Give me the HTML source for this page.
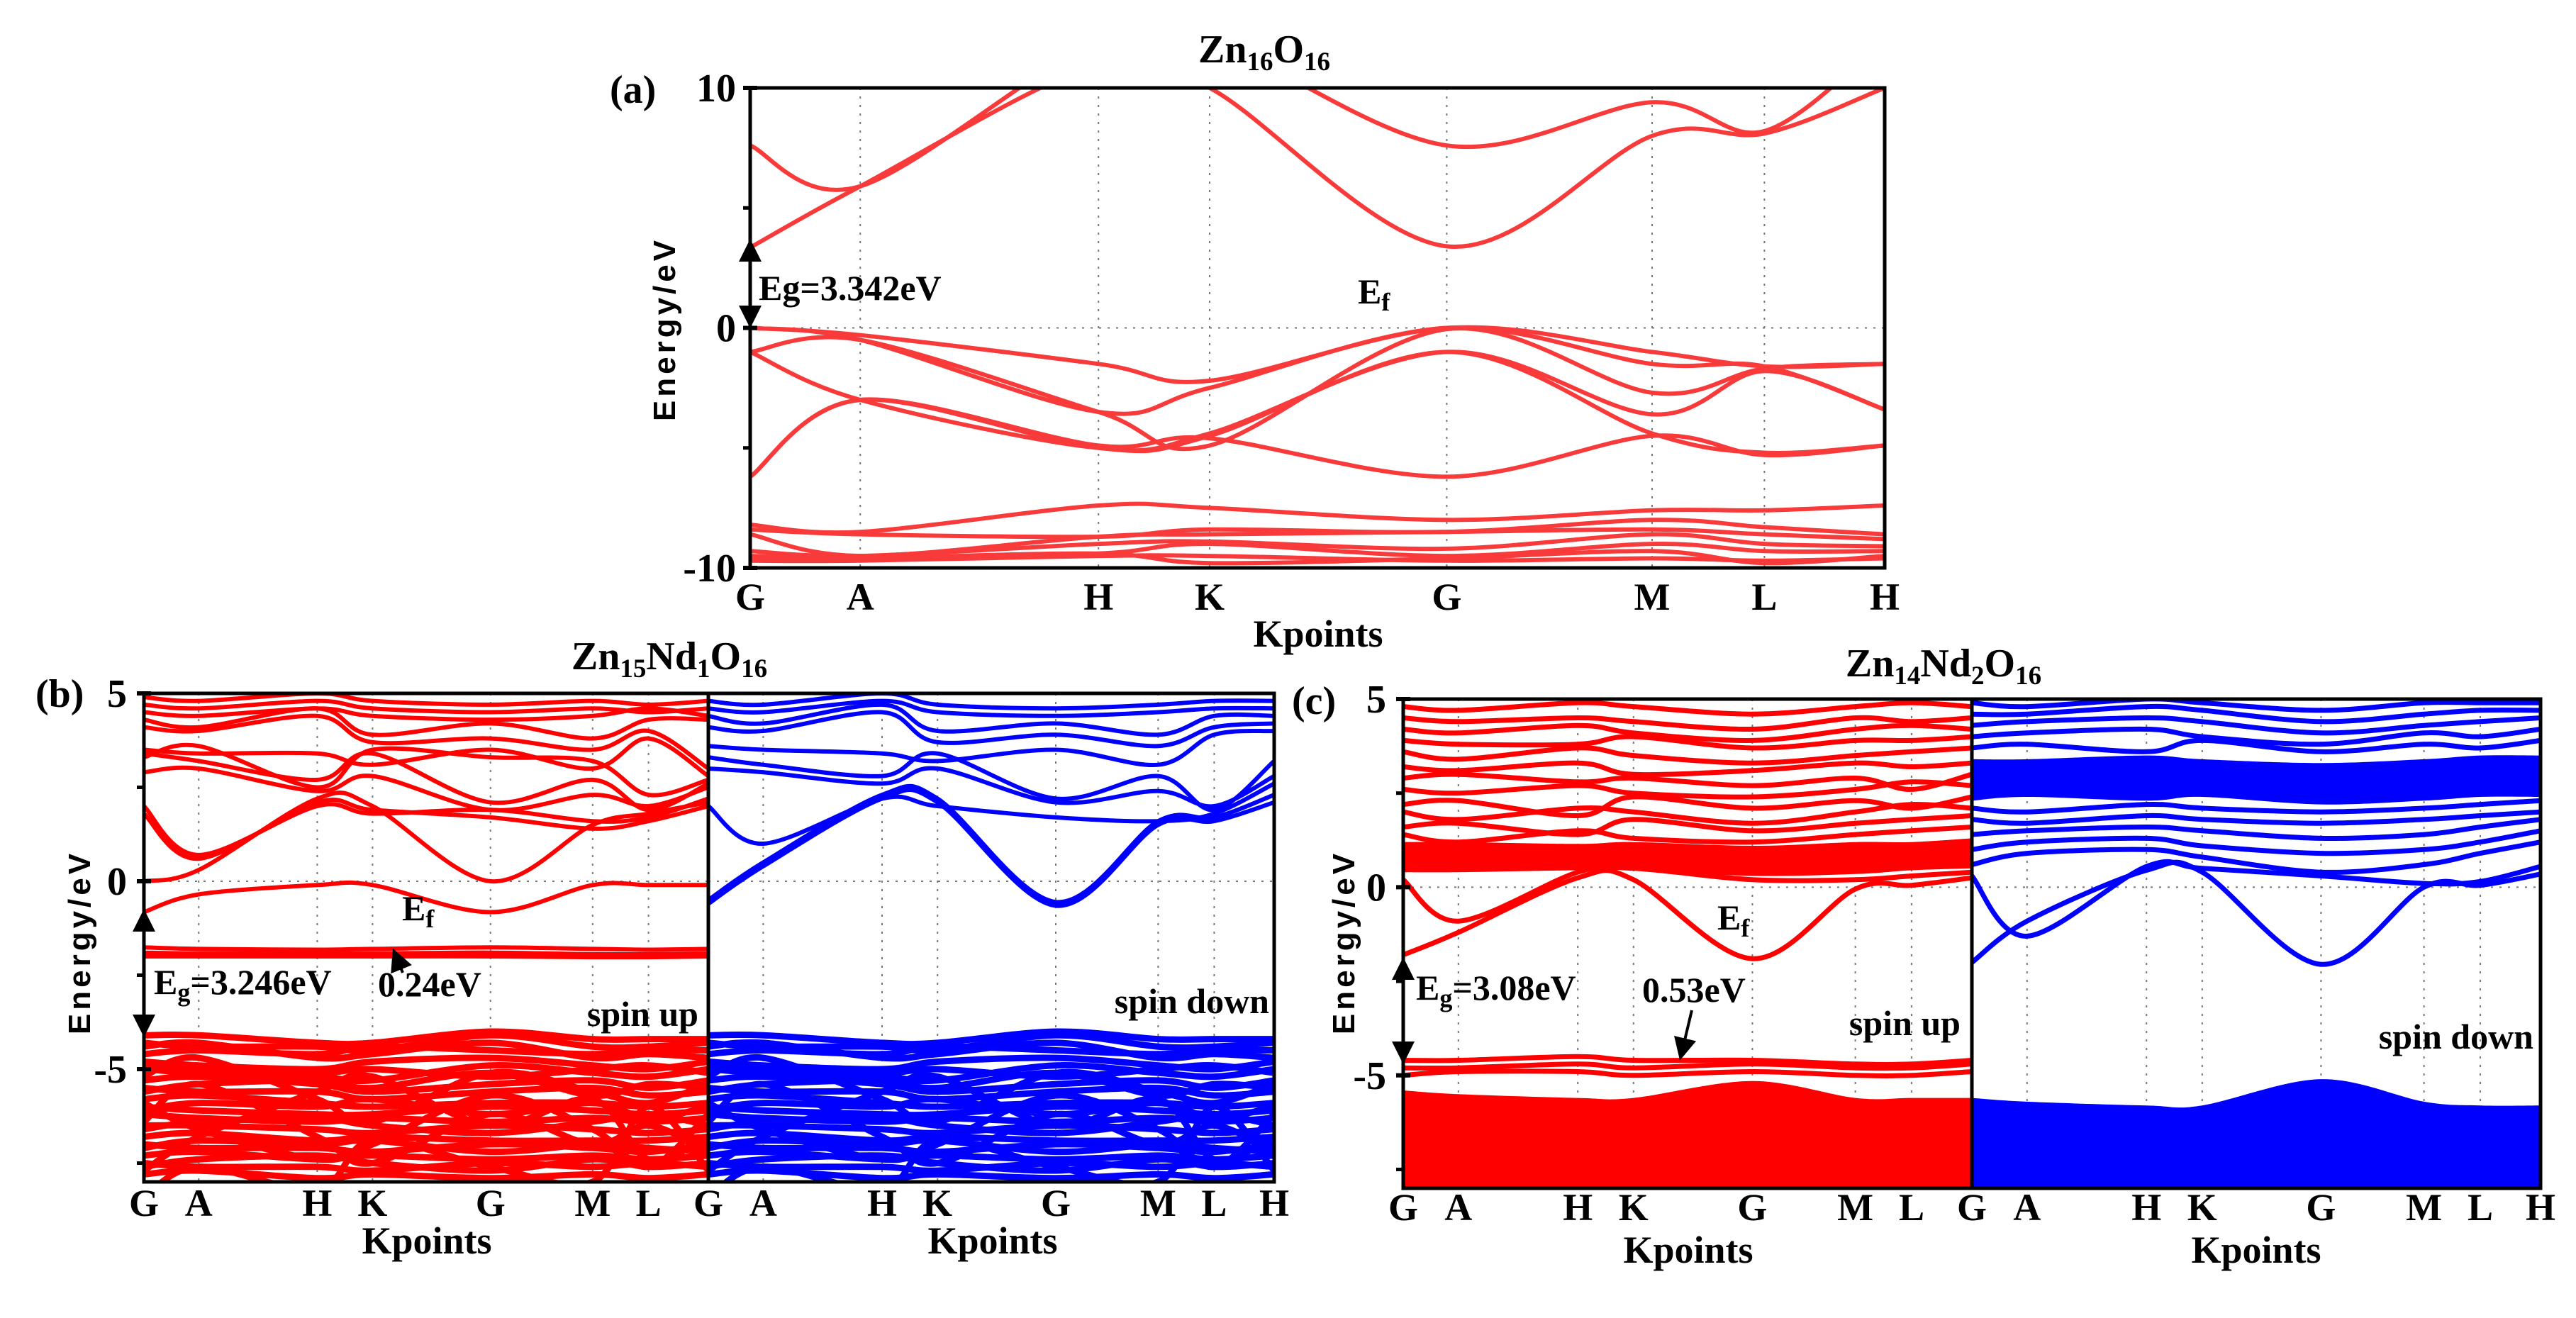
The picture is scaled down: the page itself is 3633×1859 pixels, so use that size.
<!DOCTYPE html>
<html><head><meta charset="utf-8">
<style>
html,body{margin:0;padding:0;background:#fff;}
svg{display:block;font-family:"Liberation Serif",serif;font-weight:bold;}
</style></head>
<body>
<svg id="fig" width="3633" height="1859" viewBox="0 0 3633 1859" xmlns="http://www.w3.org/2000/svg">
<rect width="3633" height="1859" fill="#fff"/>
<defs>
<marker id="ah" markerWidth="8" markerHeight="8" refX="6" refY="4" orient="auto" markerUnits="strokeWidth"><path d="M0,0 L8,4 L0,8 z" fill="#000"/></marker>
</defs>
<g id="layer"></g>
<text x="1783" y="88" font-size="56" text-anchor="middle">Zn<tspan font-size="37" dy="11">16</tspan><tspan dy="-11">O</tspan><tspan font-size="37" dy="11">16</tspan></text>
<text x="860" y="145" font-size="56">(a)</text>
<text transform="translate(952,464) rotate(-90)" font-family="Liberation Sans,sans-serif" font-size="44" letter-spacing="5" text-anchor="middle">Energy/eV</text>
<text x="1859" y="912" font-size="54" text-anchor="middle">Kpoints</text>
<text x="1070" y="423" font-size="50">Eg=3.342eV</text>
<text x="1915" y="428" font-size="50">E<tspan font-size="36" dy="10">f</tspan></text>
<line x1="1058" y1="400" x2="1058" y2="345" stroke="#000" stroke-width="4" marker-end="url(#ah)"/>
<line x1="1058" y1="400" x2="1058" y2="455" stroke="#000" stroke-width="4" marker-end="url(#ah)"/>
<text x="944" y="944" font-size="56" text-anchor="middle">Zn<tspan font-size="37" dy="11">15</tspan><tspan dy="-11">Nd</tspan><tspan font-size="37" dy="11">1</tspan><tspan dy="-11">O</tspan><tspan font-size="37" dy="11">16</tspan></text>
<text x="50" y="997" font-size="56">(b)</text>
<text transform="translate(127,1329) rotate(-90)" font-family="Liberation Sans,sans-serif" font-size="44" letter-spacing="5" text-anchor="middle">Energy/eV</text>
<text x="602" y="1768" font-size="54" text-anchor="middle">Kpoints</text>
<text x="1400" y="1768" font-size="54" text-anchor="middle">Kpoints</text>
<text x="217" y="1402" font-size="50">E<tspan font-size="36" dy="10">g</tspan><tspan dy="-10">=3.246eV</tspan></text>
<text x="533" y="1405" font-size="50">0.24eV</text>
<line x1="568" y1="1372" x2="557" y2="1345" stroke="#000" stroke-width="4" marker-end="url(#ah)"/>
<text x="567" y="1298" font-size="50">E<tspan font-size="36" dy="10">f</tspan></text>
<text x="985" y="1447" font-size="50" text-anchor="end">spin up</text>
<text x="1790" y="1429" font-size="50" text-anchor="end">spin down</text>
<line x1="203" y1="1370" x2="203" y2="1290" stroke="#000" stroke-width="4" marker-end="url(#ah)"/>
<line x1="203" y1="1370" x2="203" y2="1455" stroke="#000" stroke-width="4" marker-end="url(#ah)"/>
<text x="2741" y="954" font-size="56" text-anchor="middle">Zn<tspan font-size="37" dy="11">14</tspan><tspan dy="-11">Nd</tspan><tspan font-size="37" dy="11">2</tspan><tspan dy="-11">O</tspan><tspan font-size="37" dy="11">16</tspan></text>
<text x="1822" y="1007" font-size="56">(c)</text>
<text transform="translate(1910,1329) rotate(-90)" font-family="Liberation Sans,sans-serif" font-size="44" letter-spacing="5" text-anchor="middle">Energy/eV</text>
<text x="2381" y="1781" font-size="54" text-anchor="middle">Kpoints</text>
<text x="3182" y="1781" font-size="54" text-anchor="middle">Kpoints</text>
<text x="1997" y="1410" font-size="50">E<tspan font-size="36" dy="10">g</tspan><tspan dy="-10">=3.08eV</tspan></text>
<text x="2316" y="1413" font-size="50">0.53eV</text>
<line x1="2386" y1="1425" x2="2371" y2="1488" stroke="#000" stroke-width="4" marker-end="url(#ah)"/>
<text x="2422" y="1311" font-size="50">E<tspan font-size="36" dy="10">f</tspan></text>
<text x="2765" y="1460" font-size="50" text-anchor="end">spin up</text>
<text x="3573" y="1479" font-size="50" text-anchor="end">spin down</text>
<line x1="1979" y1="1420" x2="1979" y2="1358" stroke="#000" stroke-width="4" marker-end="url(#ah)"/>
<line x1="1979" y1="1420" x2="1979" y2="1493" stroke="#000" stroke-width="4" marker-end="url(#ah)"/>
</svg>
<script>
const kLabels = ["G","A","H","K","G","M","L","H"];
const kLabelsUp = ["G","A","H","K","G","M","L"];
const kFrac = [0, 0.097, 0.307, 0.405, 0.614, 0.795, 0.894, 1];
const aTicks = [10, 0, -10];
const bcTicks = [5, 0, -5];

const aBands = [
 [3.35,5.9,11,10.0,3.4,8.0,8.1,10],
 [7.6,5.9,12,12,7.6,9.4,8.2,12],
 [0,-0.3,-1.5,-2.2,0,-1.0,-1.6,-1.5],
 [0,-0.5,-3.5,-2.5,0,-1.5,-1.6,-3.4],
 [-1.0,-0.5,-3.5,-4.9,-0.05,-2.7,-1.7,-1.5],
 [-1.0,-3.0,-5.0,-4.4,-1.0,-3.6,-1.8,-3.4],
 [-6.2,-3.0,-5.0,-4.5,-1.0,-4.4,-5.2,-4.9],
 [-6.2,-3.0,-4.9,-4.6,-6.2,-4.5,-5.3,-4.9],
 [-8.2,-8.5,-7.4,-7.5,-8.0,-7.6,-7.6,-7.4],
 [-8.4,-8.6,-8.7,-8.4,-8.5,-8.0,-8.3,-8.6],
 [-8.6,-9.5,-8.7,-8.6,-8.5,-8.4,-8.6,-8.8],
 [-9.3,-9.5,-9.0,-8.9,-9.2,-8.6,-9.0,-9.1],
 [-9.5,-9.6,-9.4,-9.0,-9.5,-9.0,-9.3,-9.3],
 [-9.6,-9.6,-9.4,-9.8,-9.6,-9.3,-9.8,-9.5],
 [-9.7,-9.7,-9.5,-9.5,-9.7,-9.6,-9.7,-9.6]
];
const bUpCond = [
 [0.0,0.3,2.2,2.0,0.0,1.5,1.8,2.1],
 [1.8,0.6,2.1,1.9,1.7,1.4,1.6,2.0],
 [2.0,0.7,2.0,1.8,1.9,1.6,1.7,2.2],
 [2.9,3.0,2.4,2.8,1.9,2.3,2.0,2.5],
 [3.4,3.2,2.7,3.4,2.1,2.7,1.9,2.6],
 [3.5,3.4,3.4,3.1,3.5,3.0,3.8,2.8],
 [4.1,4.0,4.4,3.7,3.8,3.5,4.0,3.0],
 [4.3,4.1,4.6,3.9,4.2,3.8,4.3,4.3],
 [4.5,4.4,4.6,4.4,4.3,4.4,4.6,4.4],
 [4.7,4.6,4.8,4.6,4.5,4.6,4.5,4.6],
 [4.9,4.8,5.0,4.8,4.7,4.8,4.7,4.8],
 [3.3,3.6,2.5,3.5,3.3,3.2,2.3,2.7]
];
const bUpImpurity = [
 [-0.82,-0.35,-0.1,-0.1,-0.82,-0.1,-0.1,-0.1],
 [-1.76,-1.8,-1.82,-1.8,-1.76,-1.8,-1.82,-1.8],
 [-1.9,-1.92,-1.92,-1.92,-1.9,-1.94,-1.94,-1.92],
 [-2.0,-2.0,-2.0,-2.0,-2.0,-2.02,-2.02,-2.0]
];
const bValence = [
 [-4.1,-4.1,-4.3,-4.3,-4.0,-4.2,-4.2,-4.2],
 [-4.3,-4.4,-4.4,-4.5,-4.1,-4.4,-4.4,-4.3],
 [-4.6,-4.5,-4.6,-4.4,-4.5,-4.6,-4.5,-4.5],
 [-4.8,-4.9,-5.0,-4.8,-4.7,-4.9,-5.0,-4.8],
 [-5.0,-5.1,-5.2,-5.3,-4.9,-5.1,-5.2,-5.0],
 [-5.3,-5.2,-5.4,-5.6,-5.4,-5.3,-5.5,-5.3],
 [-5.5,-5.6,-5.6,-5.8,-5.6,-5.5,-5.7,-5.6],
 [-5.8,-5.7,-5.9,-6.0,-5.9,-5.9,-6.0,-5.9],
 [-6.0,-6.1,-6.2,-6.2,-6.0,-6.1,-6.2,-6.1],
 [-6.2,-6.3,-6.4,-6.3,-6.4,-6.3,-6.4,-6.3],
 [-6.5,-6.5,-6.6,-6.7,-6.5,-6.6,-6.7,-6.6],
 [-6.8,-6.7,-6.9,-6.8,-6.9,-6.9,-6.9,-6.8],
 [-7.0,-7.1,-7.1,-7.2,-7.0,-7.1,-7.2,-7.0],
 [-7.3,-7.2,-7.4,-7.3,-7.4,-7.3,-7.4,-7.3],
 [-7.5,-7.6,-7.6,-7.7,-7.5,-7.6,-7.5,-7.6],
 [-7.8,-7.7,-7.9,-7.8,-7.9,-7.8,-7.9,-7.8],
 [-6.4,-5.4,-6.8,-7.5,-6.2,-7.0,-6.5,-7.2],
 [-7.7,-6.8,-5.6,-5.2,-6.5,-5.8,-7.4,-6.8],
 [-8.4,-7.6,-8.2,-6.9,-7.6,-8.0,-6.0,-7.7],
 [-5.2,-4.7,-5.8,-6.4,-5.1,-5.6,-5.9,-5.4],
 [-4.9,-5.0,-5.1,-5.0,-5.2,-5.0,-4.9,-5.1],
 [-5.6,-5.4,-5.3,-5.5,-5.1,-5.7,-5.4,-5.5],
 [-6.1,-5.9,-6.0,-5.8,-6.2,-5.9,-6.3,-6.0],
 [-6.6,-6.4,-6.3,-6.5,-6.7,-6.4,-6.2,-6.5],
 [-7.1,-6.9,-7.0,-6.9,-7.2,-7.0,-7.1,-7.2],
 [-7.6,-7.4,-7.3,-7.5,-7.7,-7.4,-7.6,-7.5],
 [-4.4,-4.3,-4.7,-4.6,-4.3,-4.7,-4.6,-4.7],
 [-5.9,-6.6,-7.4,-7.0,-5.7,-6.6,-7.6,-6.2]
];
const bDnCond = [
 [-0.6,0.4,2.2,2.1,-0.65,1.5,1.6,2.1],
 [-0.5,0.5,2.3,2.2,-0.55,1.6,1.7,2.3],
 [2.0,1.0,2.2,2.0,1.7,1.6,1.8,2.6],
 [3.0,2.9,2.6,3.0,2.1,2.4,2.0,2.8],
 [3.3,3.1,2.8,3.4,2.2,2.8,1.9,3.2],
 [3.6,3.5,3.4,3.2,3.5,3.1,3.9,4.0],
 [4.1,4.0,4.5,3.7,3.9,3.6,4.1,4.2],
 [4.4,4.2,4.7,4.0,4.2,3.9,4.4,4.4],
 [4.6,4.5,4.8,4.5,4.4,4.5,4.6,4.6],
 [4.8,4.7,5.0,4.7,4.6,4.7,4.8,4.8]
];
const cUpCond = [
 [-1.8,-1.2,0.25,0.2,-1.9,-0.05,0.05,0.25],
 [0.2,-0.9,0.4,0.5,0.2,0.2,0.3,0.4],
 [1.4,1.2,1.5,1.3,1.2,1.4,1.5,1.6],
 [1.6,1.7,1.4,1.8,1.5,1.7,1.8,1.9],
 [2.0,1.8,2.1,2.0,1.7,2.0,2.2,2.1],
 [2.2,2.3,1.9,2.4,2.1,2.3,2.1,2.4],
 [2.6,2.5,2.7,2.5,2.4,2.6,2.8,2.7],
 [2.9,3.0,2.8,2.9,2.7,2.9,2.6,3.0],
 [3.2,3.1,3.3,3.0,3.1,3.3,3.2,3.3],
 [3.6,3.4,3.7,3.5,3.3,3.5,3.6,3.7],
 [3.9,3.8,3.8,4.0,3.7,3.9,3.9,4.0],
 [4.2,4.1,4.3,4.1,3.9,4.2,4.3,4.2],
 [4.5,4.4,4.5,4.4,4.2,4.5,4.4,4.5],
 [4.8,4.7,4.9,4.8,4.6,4.8,4.9,4.8]
];
const cUpBlockTop = [1.2,1.2,1.15,1.2,1.1,1.2,1.2,1.3];
const cUpBlockBot = [0.4,0.4,0.45,0.45,0.3,0.35,0.45,0.5];
const cUpImpurity = [
 [-4.6,-4.6,-4.5,-4.6,-4.6,-4.7,-4.7,-4.6],
 [-4.8,-4.8,-4.7,-4.8,-4.7,-4.8,-4.8,-4.7],
 [-5.0,-4.9,-4.9,-5.0,-4.9,-5.0,-5.0,-4.9]
];
const cUpValTop = [-5.4,-5.5,-5.6,-5.6,-5.15,-5.6,-5.6,-5.6];
const cUpValBot = [-8.5,-8.5,-8.5,-8.5,-8.5,-8.5,-8.5,-8.5];
const cDnCond = [
 [-2.0,-0.9,0.45,0.4,-2.05,0.0,0.05,0.35],
 [0.3,-1.3,0.55,0.5,0.3,0.1,0.15,0.55],
 [0.6,0.9,1.0,0.8,0.4,0.6,0.9,1.2],
 [1.0,1.2,1.3,1.1,0.9,1.0,1.2,1.5],
 [1.4,1.5,1.6,1.5,1.3,1.4,1.6,1.8],
 [1.8,1.7,1.9,1.8,1.7,1.8,1.9,2.0],
 [2.1,2.0,2.2,2.1,2.0,2.1,2.2,2.3],
 [3.7,3.8,3.6,3.9,3.6,3.8,3.7,3.9],
 [4.0,4.1,4.2,4.0,3.8,4.1,4.0,4.2],
 [4.3,4.4,4.5,4.4,4.1,4.3,4.4,4.5],
 [4.6,4.6,4.8,4.7,4.4,4.6,4.7,4.7],
 [4.9,4.8,5.0,4.9,4.7,4.9,4.9,4.9]
];
const cDnBlockTop = [3.4,3.4,3.5,3.4,3.3,3.4,3.5,3.5];
const cDnBlockBot = [2.3,2.4,2.3,2.4,2.2,2.3,2.4,2.4];
const cDnValTop = [-5.6,-5.7,-5.8,-5.8,-5.1,-5.7,-5.8,-5.8];
const cDnValBot = [-8.5,-8.5,-8.5,-8.5,-8.5,-8.5,-8.5,-8.5];

const NS = "http://www.w3.org/2000/svg";
const layer = document.getElementById("layer");
function mk(tag, attrs, parent){ const e=document.createElementNS(NS,tag); for(const k in attrs) e.setAttribute(k,attrs[k]); (parent||layer).appendChild(e); return e; }
function spline(pts){
  let d = "M"+pts[0][0].toFixed(1)+","+pts[0][1].toFixed(1);
  for(let i=0;i<pts.length-1;i++){
    const p0=pts[i-1]||pts[i], p1=pts[i], p2=pts[i+1], p3=pts[i+2]||p2;
    const c1=[p1[0]+(p2[0]-p0[0])/6, p1[1]+(p2[1]-p0[1])/6];
    const c2=[p2[0]-(p3[0]-p1[0])/6, p2[1]-(p3[1]-p1[1])/6];
    d += "C"+c1[0].toFixed(1)+","+c1[1].toFixed(1)+" "+c2[0].toFixed(1)+","+c2[1].toFixed(1)+" "+p2[0].toFixed(1)+","+p2[1].toFixed(1);
  }
  return d;
}
let clipN = 0;
function panel(p){
  const xs = f => p.x0 + f*(p.x1-p.x0);
  const ys = e => p.y0 + (p.eMax-e)/(p.eMax-p.eMin)*(p.y1-p.y0);
  const g = mk("g",{});
  
  
  const id = "clip"+(clipN++);
  const cp = mk("clipPath",{id:id},g); mk("rect",{x:p.x0,y:p.y0,width:p.x1-p.x0,height:p.y1-p.y0},cp);
  kFrac.forEach((f,i)=>{ if(i>0 && i<kFrac.length-1){ const l=mk("line",{x1:xs(f),x2:xs(f),y1:p.y0,y2:p.y1,stroke:"#777","stroke-width":2,"stroke-dasharray":"3,9"},g);
      }});
  const zl = mk("line",{x1:p.x0,x2:p.x1,y1:ys(0),y2:ys(0),stroke:"#777","stroke-width":2,"stroke-dasharray":"3,9"},g);
   
  const bg = mk("g",{"clip-path":"url(#"+id+")"},g);
  (p.fills||[]).forEach(fl=>{
    const top = fl[0].map((e,i)=>[xs(kFrac[i]),ys(e)]);
    const bot = fl[1].map((e,i)=>[xs(kFrac[i]),ys(e)]).reverse();
    const d = spline(top) + spline(bot).replace("M","L") + "Z";
    const a = mk("path",{d:d,fill:p.color},bg);
     
  });
  p.groups.forEach(gr=>{
    gr[0].forEach(b=>{
      const pts = b.map((e,i)=>[xs(kFrac[i]),ys(e)]);
      const path = mk("path",{d:spline(pts),fill:"none",stroke:p.color,"stroke-width":gr[1],"stroke-linejoin":"round"},bg);
       
    });
  });
  const fr = mk("rect",{x:p.x0,y:p.y0,width:p.x1-p.x0,height:p.y1-p.y0,fill:"none",stroke:"#000","stroke-width":p.frameW},g);
   
  if(p.klabels){
    p.klabels.forEach((lab,i)=>{ const t=mk("text",{x:xs(kFrac[i]),y:p.kY,"font-size":54,"text-anchor":"middle"},g); t.textContent=lab;
        });
  }
  if(p.ticks){
    p.ticks.forEach(v=>{ const t=mk("text",{x:p.x0-p.tickGap,y:ys(v)+19,"font-size":56,"text-anchor":"end"},g); t.textContent=String(v);
       
      const m=mk("line",{x1:p.x0-10,x2:p.x0+10,y1:ys(v),y2:ys(v),stroke:"#000","stroke-width":6},g);
        });
    p.minor.forEach(v=>{ const m=mk("line",{x1:p.x0-10,x2:p.x0,y1:ys(v),y2:ys(v),stroke:"#000","stroke-width":5},g);
        });
  }
}
const RED_A="#f93a3a", RED="#ff0000", BLUE="#0000ff";
panel({name:"panel-a-plot",x0:1058,x1:2658,y0:124,y1:801,eMax:10,eMin:-10,groups:[[aBands,6]],color:RED_A,frameW:5,klabels:kLabels,kY:860,ticks:aTicks,minor:[5,-5],tickGap:20});
panel({name:"panel-b-spin-up",x0:203,x1:999,y0:978,y1:1667,eMax:5,eMin:-8,groups:[[bUpCond,6],[bUpImpurity,6],[bValence,9]],color:RED,frameW:5,klabels:kLabelsUp,kY:1715,ticks:bcTicks,minor:[2.5,-2.5,-7.5],tickGap:24});
panel({name:"panel-b-spin-down",x0:999,x1:1797,y0:978,y1:1667,eMax:5,eMin:-8,groups:[[bDnCond,6],[bValence,9]],color:BLUE,frameW:5,klabels:kLabels,kY:1715});
panel({name:"panel-c-spin-up",x0:1979,x1:2781,y0:986,y1:1676,eMax:5,eMin:-8,groups:[[cUpCond,7],[cUpImpurity,7]],fills:[[cUpBlockTop,cUpBlockBot],[cUpValTop,cUpValBot]],color:RED,frameW:5,klabels:kLabelsUp,kY:1721,ticks:bcTicks,minor:[2.5,-2.5,-7.5],tickGap:24});
panel({name:"panel-c-spin-down",x0:2781,x1:3583,y0:986,y1:1676,eMax:5,eMin:-8,groups:[[cDnCond,7]],fills:[[cDnBlockTop,cDnBlockBot],[cDnValTop,cDnValBot]],color:BLUE,frameW:5,klabels:kLabels,kY:1721});
</script>
</body></html>
